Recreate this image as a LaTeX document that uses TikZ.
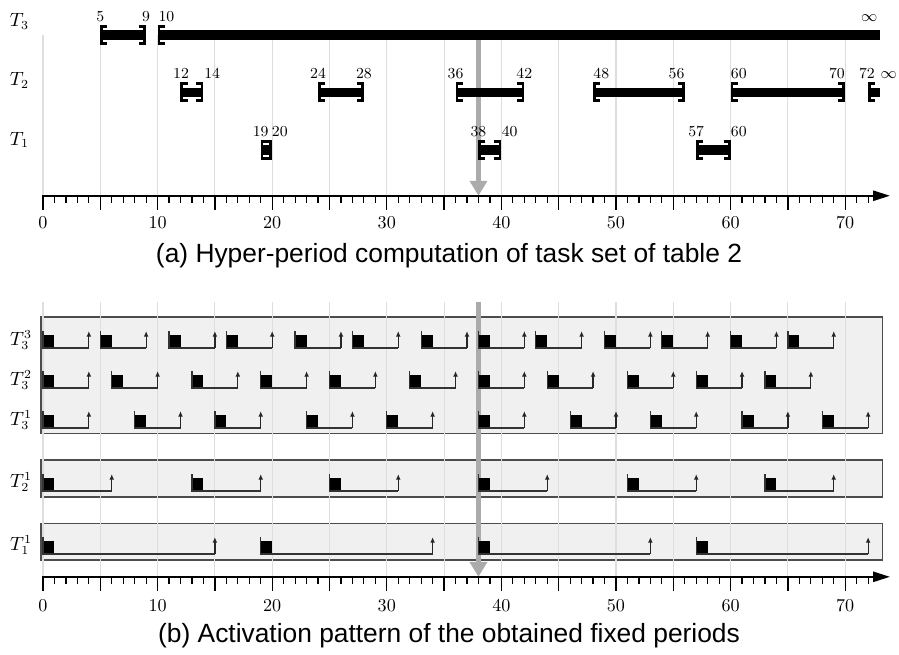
\documentclass[tikz,border=0pt]{standalone}
\usepackage{fontspec}
\newfontfamily\capfont{Liberation Sans}
\usetikzlibrary{arrows.meta}
\tikzset{
  gridln/.style={draw=black!13, line width=0.6pt},
  barline/.style={line width=5.3pt},
  brk/.style={line width=1.6pt, miter limit=10},
  tickln/.style={line width=0.7pt},
  axisln/.style={line width=0.95pt, -{Triangle[length=9.5pt,width=5.8pt]}},
  grayarrow/.style={draw=black!33, line width=2.85pt, -{Triangle[length=8.5pt,width=9.7pt]}},
  tasklbl/.style={font=\fontsize{10.5}{12}\selectfont, anchor=base, inner sep=0pt},
  bracklbl/.style={font=\fontsize{8.7}{10}\selectfont, inner sep=0pt},
  ticklbl/.style={font=\fontsize{10.3}{12}\selectfont, anchor=base, inner sep=0pt},
  caption/.style={font=\capfont\fontsize{15}{18}\selectfont, anchor=base, inner sep=0pt},
  taskbox/.style={fill=black!6, draw=black!70, line width=0.85pt},
  jobline/.style={draw=black!80, line width=0.75pt},
  jobarrow/.style={draw=black!85, line width=0.7pt, -{Latex[length=3.2pt,width=2.8pt]}},
  lbrk/.pic={\draw[brk] (0.611,-8.45) -- (0.118,-8.45) -- (0.118,8.45) -- (0.611,8.45);},
  rbrk/.pic={\draw[brk] (-0.611,-8.45) -- (-0.118,-8.45) -- (-0.118,8.45) -- (-0.611,8.45);},
}
\newcommand\ivl[3]{%
  \draw[barline] (#1,#3) -- (#2,#3);
  \pic at (#1,#3) {lbrk};
  \pic at (#2,#3) {rbrk};
}
\newcommand\ivlinf[3]{%
  \draw[barline] (#1,#3) -- (#2,#3);
  \pic at (#1,#3) {lbrk};
}
\newcommand\job[3]{%
  \fill (#1,#3) rectangle (#1+1,#3-13.3);
  \draw[jobline] (#1,#3-17) -- (#1,#3) -- (#2,#3);
  \draw[jobarrow] (#2,#3) -- (#2,#3-17);
}
\newcommand\timeaxis[3]{% prefix, y, label offset
  \draw[axisln] (-0.05,#2) -- (73.9,#2);
  \foreach \i in {0,...,72} {
    \pgfmathsetmacro\mytklen{mod(\i,5)==0 ? 14 : 7}
    \draw[tickln] (\i,#2) -- (\i,#2+\mytklen);
  }
  \foreach \i in {0,10,...,70} {
    \node[ticklbl] (#1\i) at (\i,#2+#3) {\i};
  }
}
\begin{document}
\begin{tikzpicture}[x=0.2292cm, y=-0.02cm]
\useasboundingbox (-3.7522,0) rectangle (74.695,654);

% ---------------- (a) ----------------
\foreach \g in {0,5,...,70} { \draw[gridln] (\g,35) -- (\g,195.7); }
\coordinate (ga1) at (38,35);
\coordinate (ga2) at (38,195.7);
\draw[grayarrow] (ga1) -- (ga2);

\node[tasklbl] (t3) at (-2.05,26.7) {$T_3$};
\node[tasklbl] (t2) at (-2.05,85.5) {$T_2$};
\node[tasklbl] (t1) at (-2.05,145) {$T_1$};

% T3
\ivl{5}{9}{35}
\ivlinf{10}{73}{35}
\node[bracklbl, anchor=base] (a1) at (5,21.7) {5};
\node[bracklbl, anchor=base] (a2) at (9,21.7) {9};
\node[bracklbl, anchor=base west] (a3) at (10.05,21.7) {10};
\node[bracklbl, anchor=base] (a4) at (72.1,21.7) {$\infty$};
% T2
\ivl{12}{14}{92.3}
\ivl{24}{28}{92.3}
\ivl{36}{42}{92.3}
\ivl{48}{56}{92.3}
\ivl{60}{70}{92.3}
\ivlinf{72}{73}{92.3}
\node[bracklbl, anchor=base] (b1) at (12.05,78) {12};
\node[bracklbl, anchor=base west] (b2) at (14.05,78) {14};
\node[bracklbl, anchor=base] (b3) at (24,78) {24};
\node[bracklbl, anchor=base] (b4) at (28,78) {28};
\node[bracklbl, anchor=base] (b5) at (36,78) {36};
\node[bracklbl, anchor=base] (b6) at (42,78) {42};
\node[bracklbl, anchor=base west] (b7) at (48,78) {48};
\node[bracklbl, anchor=base east] (b8) at (56,78) {56};
\node[bracklbl, anchor=base west] (b9) at (60,78) {60};
\node[bracklbl, anchor=base east] (b10) at (70,78) {70};
\node[bracklbl, anchor=base] (b11) at (71.9,78) {72};
\node[bracklbl, anchor=base] (b12) at (73.8,78) {$\infty$};
% T1
\ivl{19}{20}{150}
\ivl{38}{40}{150}
\ivl{57}{60}{150}
\node[bracklbl, anchor=base] (c1) at (19,136) {19};
\node[bracklbl, anchor=base west] (c2) at (19.95,136) {20};
\node[bracklbl, anchor=base] (c3) at (38,136) {38};
\node[bracklbl, anchor=base west] (c4) at (40,136) {40};
\node[bracklbl, anchor=base] (c5) at (57,136) {57};
\node[bracklbl, anchor=base west] (c6) at (60,136) {60};

\timeaxis{ta}{195.7}{33}
\node[caption] (capa) at (35.43,262) {(a) Hyper-period computation of task set of table 2};

% ---------------- (b) ----------------
\draw[taskbox] (-0.17,316.7) rectangle (73.27,433.3);
\draw[taskbox] (-0.17,460) rectangle (73.27,496.7);
\draw[taskbox] (-0.17,523.3) rectangle (73.27,560);
\foreach \g in {0,5,...,70} { \draw[gridln] (\g,302.3) -- (\g,576.7); }
\coordinate (gb1) at (38,302.3);
\coordinate (gb2) at (38,576.7);
\draw[grayarrow] (gb1) -- (gb2);

\foreach \r in {0,5,11,16,22,27,33,38,43,49,54,60,65} {\job{\r}{\r+4}{348}}
\foreach \r in {0,6,13,19,25,32,38,44,51,57,63} {\job{\r}{\r+4}{388}}
\foreach \r in {0,8,15,23,30,38,46,53,61,68} {\job{\r}{\r+4}{428}}
\foreach \r in {0,13,25,38,51,63} {\job{\r}{\r+6}{491}}
\foreach \r in {0,19,38,57} {\job{\r}{\r+15}{554}}

\node[tasklbl] (r33) at (-1.92,345) {$T_3^3$};
\node[tasklbl] (r32) at (-1.92,385) {$T_3^2$};
\node[tasklbl] (r31) at (-1.92,425) {$T_3^1$};
\node[tasklbl] (r21) at (-1.92,487) {$T_2^1$};
\node[tasklbl] (r11) at (-1.92,550) {$T_1^1$};

\timeaxis{tb}{576.7}{35}
\node[caption] (capb) at (35.43,642.5) {(b) Activation pattern of the obtained fixed periods};
\end{tikzpicture}
\end{document}
